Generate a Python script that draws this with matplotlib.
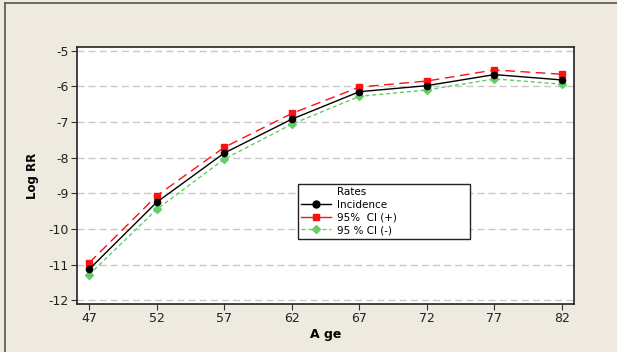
import matplotlib
matplotlib.use("Agg")

import matplotlib.pyplot as plt
from matplotlib.lines import Line2D

plt.rcParams["axes.unicode_minus"] = False

# Data
ages = [47, 52, 57, 62, 67, 72, 77, 82]
incidence = [-11.13, -9.25, -7.87, -6.92, -6.15, -5.98, -5.67, -5.82]
ci_upper = [-10.95, -9.07, -7.71, -6.76, -6.02, -5.85, -5.54, -5.66]
ci_lower = [-11.28, -9.45, -8.04, -7.06, -6.28, -6.10, -5.79, -5.94]
y_ticks = [-12, -11, -10, -9, -8, -7, -6, -5]

BG = "#EEEAE0"
W, H = 617, 352

fig = plt.figure(figsize=(W / 100, H / 100), dpi=100, facecolor=BG)
ax = fig.add_axes([77.3 / W, 1 - 304 / H, (574 - 77.3) / W, (304 - 47.3) / H])
ax.set_facecolor("white")

# horizontal reference lines
for yv in y_ticks:
    ax.axhline(yv, color="#C8C8C8", lw=1.0, ls=(0, (5, 3)), zorder=1)

ax.plot(ages, ci_upper, color="#FF1010", lw=1.0, ls=(0, (7, 4)),
        marker="s", ms=4.5, mec="#FF1010", mfc="#FF1010", zorder=3)
ax.plot(ages, ci_lower, color="#66CC66", lw=1.0, ls=(0, (3, 2)),
        marker="D", ms=4, mec="#66CC66", mfc="#66CC66", zorder=3)
ax.plot(ages, incidence, color="black", lw=1.0, ls="-",
        marker="o", ms=4.5, mec="black", mfc="black", zorder=4)

ax.set_xlim(46.13, 82.89)
ax.set_ylim(-12.10, -4.905)
ax.set_xticks(ages)
ax.set_yticks(y_ticks)
ax.tick_params(direction="out", length=4, width=0.8, labelsize=9,
               color="#333333", labelcolor="#222222", pad=2)
for sp in ax.spines.values():
    sp.set_color("#222222")
    sp.set_linewidth(1.2)

ax.set_xlabel("A ge", fontsize=9, fontweight="bold", labelpad=2)
ax.set_ylabel("Log RR", fontsize=8.5, fontweight="bold", labelpad=7)

# legend with a left-aligned title entry
title_handle = Line2D([], [], color="none")
handles = [
    title_handle,
    Line2D([], [], color="black", lw=1.0, marker="o", ms=5),
    Line2D([], [], color="#FF1010", lw=1.0, marker="s", ms=5),
    Line2D([], [], color="#66CC66", lw=1.0, ls=(0, (3, 2)), marker="D", ms=4.5),
]
labels = ["Rates", "Incidence", "95%  CI (+)", "95 % CI (-)"]
leg = ax.legend(handles, labels, loc="upper left",
                bbox_to_anchor=(0.444, 0.469, 0.347, 0.0), mode="expand",
                fontsize=7.5, frameon=True, fancybox=False, framealpha=1,
                edgecolor="#222222", handlelength=2.8, handletextpad=0.6,
                labelspacing=0.25, borderpad=0.35, borderaxespad=0)
leg.get_frame().set_linewidth(1.0)
leg.set_zorder(5)

# outer frame lines along top and left edges
fig.add_artist(Line2D([5 / W, 1], [1 - 3 / H, 1 - 3 / H], color="#555555", lw=1.2))
fig.add_artist(Line2D([5 / W, 5 / W], [0, 1 - 3 / H], color="#555555", lw=1.2))

fig.savefig("out.png", dpi=100, facecolor=BG)
